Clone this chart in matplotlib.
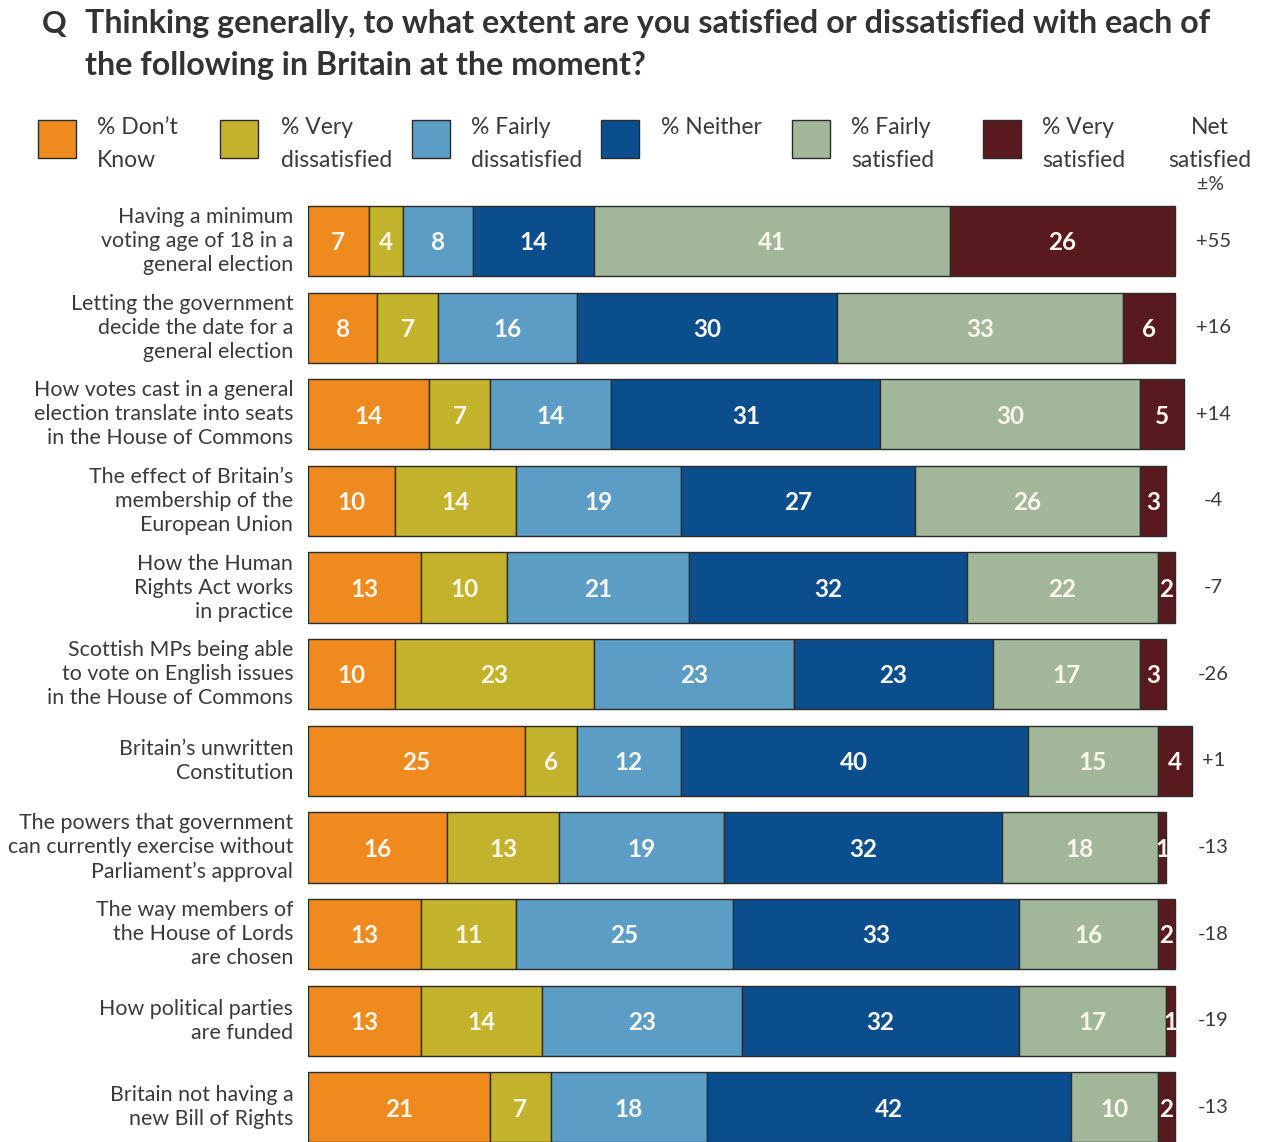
import numpy as np
from matplotlib import use
use('Agg')
import matplotlib.pyplot as plt

items = [
    "Having a minimum\nvoting age of 18 in a\ngeneral election",
    "Letting the government\ndecide the date for a\ngeneral election",
    "How votes cast in a general\nelection translate into seats\nin the House of Commons",
    "The effect of Britain\u2019s\nmembership of the\nEuropean Union",
    "How the Human\nRights Act works\nin practice",
    "Scottish MPs being able\nto vote on English issues\nin the House of Commons",
    "Britain\u2019s unwritten\nConstitution",
    "The powers that government\ncan currently exercise without\nParliament\u2019s approval",
    "The way members of\nthe House of Lords\nare chosen",
    "How political parties\nare funded",
    "Britain not having a\nnew Bill of Rights",
]
dont_know = [7, 8, 14, 10, 13, 10, 25, 16, 13, 13, 21]
very_dis = [4, 7, 7, 14, 10, 23, 6, 13, 11, 14, 7]
fairly_dis = [8, 16, 14, 19, 21, 23, 12, 19, 25, 23, 18]
neither = [14, 30, 31, 27, 32, 23, 40, 32, 33, 32, 42]
fairly_sat = [41, 33, 30, 26, 22, 17, 15, 18, 16, 17, 10]
very_sat = [26, 6, 5, 3, 2, 3, 4, 1, 2, 1, 2]
net = ["+55", "+16", "+14", "-4", "-7", "-26", "+1", "-13", "-18", "-19", "-13"]

series = [dont_know, very_dis, fairly_dis, neither, fairly_sat, very_sat]
legend_labels = [["% Don\u2019t", "Know"], ["% Very", "dissatisfied"], ["% Fairly", "dissatisfied"],
                 ["% Neither"], ["% Fairly", "satisfied"], ["% Very", "satisfied"]]
colors = ["#EF8A1F", "#C3B22C", "#5B9DC5", "#0B4E8E", "#A2B799", "#581A1F"]

W, H = 1267, 1142
fig = plt.figure(figsize=(W / 100, H / 100), dpi=100)
plt.rcParams['font.family'] = ['Lato', 'DejaVu Sans']
txtcol = '#3a3a3a'

# axes placed in pixel terms: bar zero at x=308, 8.67 px per percent
ax_left, ax_top, ax_bot = 308, 198, 1142
ppu = 8.67
ax_w = W - ax_left
ax = fig.add_axes([ax_left / W, 0, ax_w / W, (ax_bot - ax_top) / H])
ax.set_xlim(0, ax_w / ppu)
ax.set_ylim(10.40, -0.497)
ax.axis('off')

y = np.arange(len(items))
left = np.zeros(len(items))
for vals, col in zip(series, colors):
    vals = np.array(vals)
    ax.barh(y, vals, left=left, height=0.81, color=col, edgecolor='#2b2b2b', linewidth=1.0)
    for yi, l, v in zip(y, left, vals):
        ax.text(l + v / 2, yi + 0.02, str(v), ha='center', va='center', color='#FBF6EC',
                fontsize=17.5, fontweight='bold')
    left += vals

for yi, lab, n in zip(y, items, net):
    ax.text(-1.7, yi, lab, ha='right', va='center', fontsize=15.4, color=txtcol,
            linespacing=1.25)
    ax.text(104.4, yi, n, ha='center', va='center', fontsize=14.5, color=txtcol)

# title
fig.text(42 / W, 1 - 24 / H, "Q", fontsize=22, fontweight='bold', color='#333333', va='center')
fig.text(85 / W, 1 - 24 / H, "Thinking generally, to what extent are you satisfied or dissatisfied with each of",
         fontsize=23.2, fontweight='bold', color='#333333', va='center')
fig.text(85 / W, 1 - 66 / H, "the following in Britain at the moment?",
         fontsize=23.2, fontweight='bold', color='#333333', va='center')

# legend
sq_x = [38, 220, 412, 601, 792, 983]
txt_x = [97, 281, 471, 661, 851, 1042]
base_y = [134, 167]
for sx, tx, col, lab in zip(sq_x, txt_x, colors, legend_labels):
    fig.patches.append(plt.Rectangle((sx / W, 1 - 158 / H), 38 / W, 38 / H, transform=fig.transFigure,
                                     facecolor=col, edgecolor='#2b2b2b', linewidth=1.0))
    for line, by in zip(lab, base_y):
        fig.text(tx / W, 1 - by / H, line, fontsize=16.5, color=txtcol, va='baseline')
for line, by in zip(["Net", "satisfied", "\u00b1%"], [134, 167, 190]):
    fig.text(1210 / W, 1 - by / H, line, fontsize=16.5 if by < 180 else 14, color=txtcol,
             va='baseline', ha='center')

fig.savefig('out.png', dpi=100, facecolor='white')
